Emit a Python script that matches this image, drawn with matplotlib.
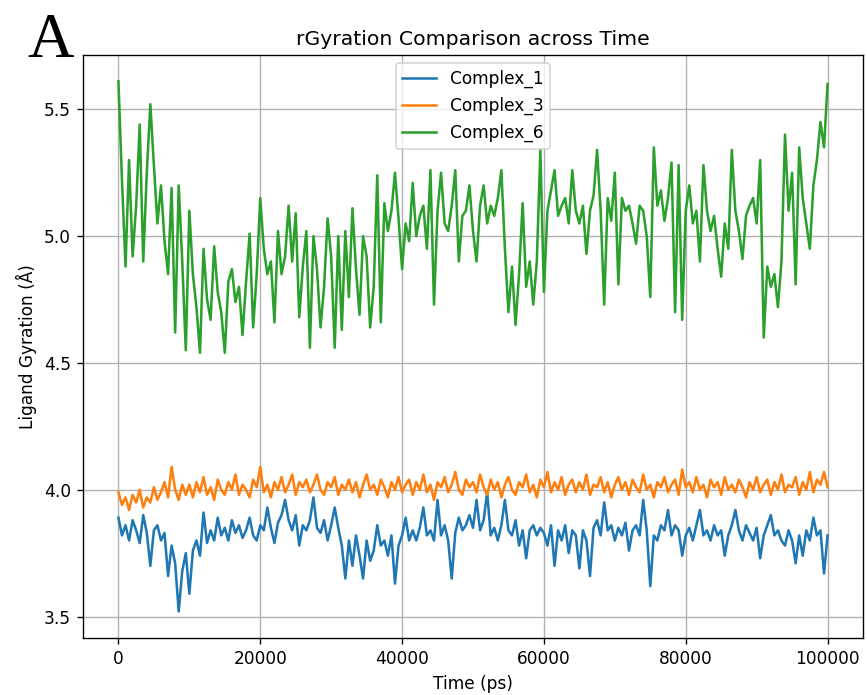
#!/usr/bin/env python3
# -*- coding: utf-8 -*-

import numpy as np
import matplotlib
matplotlib.use('Agg')
import matplotlib.pyplot as plt

DPI = 122

# Radius of gyration of the ligand, one value every 500 ps
complex_1 = [
    3.89, 3.82, 3.86, 3.80, 3.88, 3.84, 3.79, 3.90, 3.83, 3.70,
    3.84, 3.86, 3.80, 3.83, 3.66, 3.78, 3.71, 3.52, 3.68, 3.75,
    3.59, 3.76, 3.80, 3.74, 3.91, 3.79, 3.84, 3.80, 3.89, 3.82,
    3.85, 3.80, 3.88, 3.83, 3.86, 3.81, 3.84, 3.89, 3.82, 3.80,
    3.86, 3.84, 3.93, 3.85, 3.79, 3.87, 3.90, 3.96, 3.88, 3.84,
    3.90, 3.78, 3.86, 3.84, 3.88, 3.97, 3.85, 3.83, 3.88, 3.80,
    3.86, 3.93, 3.85, 3.78, 3.65, 3.80, 3.70, 3.82, 3.74, 3.65,
    3.80, 3.72, 3.76, 3.86, 3.78, 3.80, 3.74, 3.82, 3.63, 3.78,
    3.82, 3.89, 3.80, 3.84, 3.80, 3.85, 3.93, 3.82, 3.84, 3.80,
    3.96, 3.82, 3.86, 3.80, 3.65, 3.83, 3.89, 3.84, 3.86, 3.90,
    3.85, 3.96, 3.84, 3.88, 3.99, 3.82, 3.85, 3.80, 3.86, 3.96,
    3.84, 3.82, 3.88, 3.78, 3.84, 3.73, 3.84, 3.86, 3.82, 3.85,
    3.83, 3.78, 3.86, 3.70, 3.84, 3.80, 3.86, 3.75, 3.84, 3.82,
    3.69, 3.84, 3.80, 3.66, 3.85, 3.88, 3.82, 3.95, 3.84, 3.86,
    3.80, 3.85, 3.82, 3.87, 3.76, 3.84, 3.86, 3.82, 3.96, 3.84,
    3.62, 3.82, 3.80, 3.86, 3.84, 3.92, 3.82, 3.86, 3.84, 3.74,
    3.82, 3.85, 3.80, 3.86, 3.92, 3.82, 3.84, 3.80, 3.86, 3.82,
    3.84, 3.74, 3.82, 3.86, 3.92, 3.84, 3.80, 3.86, 3.83, 3.80,
    3.85, 3.73, 3.82, 3.86, 3.90, 3.82, 3.84, 3.80, 3.78, 3.84,
    3.80, 3.71, 3.82, 3.74, 3.84, 3.80, 3.89, 3.82, 3.84, 3.67,
    3.82,
]

complex_3 = [
    3.99, 3.94, 3.97, 3.92, 3.98, 3.95, 4.00, 3.93, 3.97, 3.95,
    4.01, 3.96, 3.99, 4.03, 3.97, 4.09, 4.00, 3.96, 4.02, 3.98,
    4.02, 3.97, 4.03, 3.99, 4.05, 3.98, 4.01, 3.96, 4.04, 4.00,
    3.98, 4.03, 4.00, 4.06, 3.98, 4.02, 4.00, 3.97, 4.04, 4.01,
    4.09, 3.99, 4.02, 3.97, 4.03, 4.00, 4.05, 3.99, 4.02, 4.06,
    3.98, 4.03, 4.01, 4.04, 3.99, 4.02, 4.06, 4.00, 3.98, 4.03,
    4.01, 4.05, 3.98, 4.02, 4.00, 4.04, 3.99, 4.03, 3.97, 4.02,
    4.06, 4.00, 4.02, 3.98, 4.04, 4.01, 3.97, 4.03, 4.00, 4.05,
    3.99, 4.02, 4.04, 3.98, 4.03, 4.00, 4.06, 3.99, 4.02, 3.96,
    4.03, 4.01, 4.05, 3.99, 4.02, 4.07, 4.00, 3.98, 4.04, 4.01,
    4.03, 3.99, 4.06, 4.01, 3.98, 4.04, 4.00, 4.03, 3.97, 4.02,
    4.05, 4.00, 3.98, 4.03, 4.01, 4.06, 3.99, 4.02, 3.97, 4.04,
    4.01, 4.07, 3.99, 4.03, 4.00, 4.05, 3.98, 4.02, 4.04, 3.99,
    4.03, 4.00, 4.06, 3.98, 4.02, 4.01, 4.05, 3.99, 4.03, 3.97,
    4.02, 4.05, 4.00, 4.03, 3.98, 4.04, 4.01, 3.99, 4.06, 4.00,
    4.02, 3.97, 4.03, 4.01, 4.05, 3.99, 4.02, 4.04, 3.98, 4.08,
    4.01, 4.03, 3.99, 4.05, 4.00, 4.02, 3.97, 4.04, 4.01, 4.03,
    3.98, 4.05, 4.00, 4.02, 3.99, 4.04, 4.01, 3.97, 4.03, 4.00,
    4.05, 3.99, 4.02, 4.04, 3.98, 4.03, 4.00, 4.06, 3.99, 4.02,
    4.01, 4.05, 3.98, 4.03, 4.00, 4.07, 3.99, 4.04, 4.02, 4.07,
    4.01,
]

complex_6 = [
    5.61, 5.22, 4.88, 5.30, 4.92, 5.12, 5.44, 4.90, 5.25, 5.52,
    5.28, 5.05, 5.20, 4.98, 4.85, 5.19, 4.62, 5.20, 4.90, 4.55,
    5.10, 4.85, 4.72, 4.54, 4.95, 4.75, 4.67, 4.96, 4.78, 4.70,
    4.54, 4.82, 4.87, 4.74, 4.80, 4.61, 4.82, 5.01, 4.64, 4.85,
    5.15, 4.95, 4.85, 4.90, 4.66, 5.02, 4.85, 4.92, 5.12, 4.90,
    5.09, 4.68, 4.88, 5.02, 4.56, 5.00, 4.87, 4.64, 4.80, 5.07,
    4.92, 4.56, 5.00, 4.63, 5.02, 4.76, 5.11, 4.87, 4.69, 5.00,
    4.92, 4.64, 4.80, 5.24, 4.66, 5.13, 5.02, 5.10, 5.25, 5.07,
    4.87, 5.05, 4.98, 5.21, 5.00, 5.08, 5.12, 4.95, 5.26, 4.73,
    5.10, 5.25, 5.05, 5.02, 5.12, 5.26, 4.90, 5.08, 5.10, 5.20,
    5.02, 4.90, 5.12, 5.20, 5.05, 5.12, 5.08, 5.15, 5.26, 4.95,
    4.70, 4.88, 4.65, 4.85, 5.13, 4.80, 4.90, 4.73, 4.90, 5.34,
    4.78, 5.10, 5.18, 5.26, 5.08, 5.12, 5.15, 5.05, 5.26, 5.10,
    5.05, 5.12, 4.93, 5.10, 5.16, 5.34, 5.10, 4.73, 5.15, 5.06,
    5.25, 4.81, 5.15, 5.10, 5.12, 5.05, 4.97, 5.12, 5.10, 5.00,
    4.76, 5.35, 5.12, 5.18, 5.06, 5.15, 5.29, 4.70, 5.28, 4.67,
    5.10, 5.20, 5.05, 5.10, 4.90, 5.28, 5.10, 5.02, 5.08, 4.95,
    4.84, 5.05, 4.95, 5.34, 5.10, 5.02, 4.91, 5.08, 5.12, 5.15,
    5.05, 5.30, 4.60, 4.88, 4.80, 4.85, 4.72, 4.90, 5.40, 5.10,
    5.25, 4.81, 5.35, 5.15, 5.05, 4.95, 5.20, 5.30, 5.45, 5.35,
    5.60,
]

series_names = ['Complex_1', 'Complex_3', 'Complex_6']
series_values = [complex_1, complex_3, complex_6]

fig = plt.figure(figsize=(867 / DPI, 695 / DPI), dpi=DPI)
ax = fig.add_axes([0.0957, 0.082, 0.8997, 0.839])

for name, values in zip(series_names, series_values):
    time_ps = np.linspace(0, 100000, len(values))
    ax.plot(time_ps, values, label=name)

ax.set_title('rGyration Comparison across Time')
ax.set_xlabel('Time (ps)')
ax.set_ylabel('Ligand Gyration (Å)')
ax.set_yticks([3.5, 4.0, 4.5, 5.0, 5.5])
ax.legend(loc='upper center')
ax.grid(True)

# Panel letter
fig.text(0.032, 0.918, 'A', family='Liberation Serif', fontsize=38,
         va='baseline', ha='left')

fig.savefig('out.png', dpi=DPI)
